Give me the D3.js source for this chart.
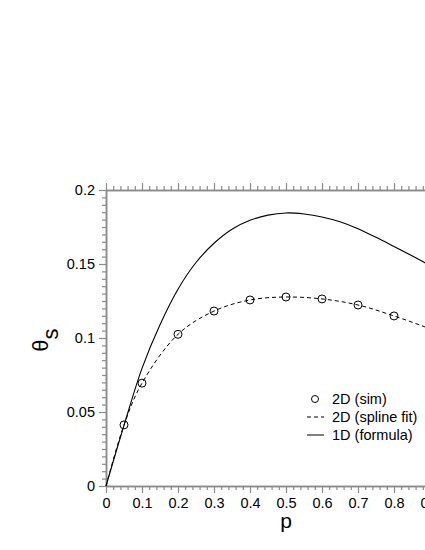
<!DOCTYPE html>
<html>
<head>
<meta charset="utf-8">
<script src="https://cdn.jsdelivr.net/npm/d3@7"></script>
<style>
  html, body { margin: 0; padding: 0; background: #fff; }
  svg { display: block; font-family: "Liberation Sans", Arial, Helvetica, sans-serif; }
</style>
</head>
<body>
<svg id="chart" width="425" height="550"></svg>
<script>
// ---- data ----
const simP      = [0.05, 0.1, 0.2, 0.3, 0.4, 0.5, 0.6, 0.7, 0.8];
const simTheta  = [0.0413, 0.0695, 0.1025, 0.1182, 0.1257, 0.1277, 0.1264, 0.1223, 0.1149];

const splineP     = [0, 0.05, 0.1, 0.2, 0.3, 0.4, 0.5, 0.6, 0.7, 0.8, 0.9, 1.0];
const splineTheta = [0, 0.0413, 0.0695, 0.1025, 0.1182, 0.1257, 0.1277, 0.1264, 0.1223, 0.1149, 0.1062, 0.0965];

const formulaP     = [0, 0.05, 0.1, 0.15, 0.2, 0.25, 0.3, 0.35, 0.4, 0.45, 0.5, 0.55, 0.6, 0.65, 0.7, 0.75, 0.8, 0.85, 0.9, 0.95, 1.0];
const formulaTheta = [0, 0.041, 0.0795, 0.109, 0.133, 0.151, 0.164, 0.1735, 0.1795, 0.183, 0.1845, 0.1838, 0.1818, 0.1785, 0.1738, 0.168, 0.1618, 0.1555, 0.149, 0.1425, 0.136];

const xMajorTicks = [0, 0.1, 0.2, 0.3, 0.4, 0.5, 0.6, 0.7, 0.8, 0.9, 1];
const xTickLabels = ["0", "0.1", "0.2", "0.3", "0.4", "0.5", "0.6", "0.7", "0.8", "0.9", "1"];
const yMajorTicks = [0, 0.05, 0.1, 0.15, 0.2];
const yTickLabels = ["0", "0.05", "0.1", "0.15", "0.2"];

const legendLabels = ["2D (sim)", "2D (spline fit)", "1D (formula)"];

// ---- layout ----
const svg = d3.select("#chart");
const x = d3.scaleLinear().domain([0, 1]).range([106, 466]);
const y = d3.scaleLinear().domain([0, 0.2]).range([486, 190]);
const axisColor = "#8a8a8a";
const fontSize = 14.5;

const xMinor = d3.range(0, 1.0001, 0.02).filter(v => Math.abs(v * 10 - Math.round(v * 10)) > 1e-6);
const yMinor = d3.range(0, 0.2001, 0.005).filter(v => Math.abs(v * 20 - Math.round(v * 20)) > 1e-6);

function styleAxis(g) {
  g.select(".domain").attr("stroke", axisColor).attr("stroke-width", 1.5);
  g.selectAll(".tick line").attr("stroke", axisColor).attr("stroke-width", 1.2);
  g.selectAll(".tick text").attr("fill", "#000").attr("font-size", fontSize)
    .attr("font-family", "Liberation Sans, Arial, sans-serif");
}

// bottom minor ticks
svg.append("g").attr("transform", `translate(0,${y(0)})`)
  .call(d3.axisBottom(x).tickValues(xMinor).tickSize(4).tickFormat("").tickSizeOuter(0))
  .call(styleAxis);
// bottom major
svg.append("g").attr("transform", `translate(0,${y(0)})`)
  .call(d3.axisBottom(x).tickValues(xMajorTicks).tickSize(7).tickPadding(5).tickSizeOuter(0)
    .tickFormat((d, i) => xTickLabels[i]))
  .call(styleAxis);
// top minor/major
svg.append("g").attr("transform", `translate(0,${y(0.2)})`)
  .call(d3.axisTop(x).tickValues(xMinor).tickSize(4).tickFormat("").tickSizeOuter(0))
  .call(styleAxis);
svg.append("g").attr("transform", `translate(0,${y(0.2)})`)
  .call(d3.axisTop(x).tickValues(xMajorTicks).tickSize(7).tickFormat("").tickSizeOuter(0))
  .call(styleAxis);
// left minor/major
svg.append("g").attr("transform", `translate(${x(0)},0)`)
  .call(d3.axisLeft(y).tickValues(yMinor).tickSize(4).tickFormat("").tickSizeOuter(0))
  .call(styleAxis);
svg.append("g").attr("transform", `translate(${x(0)},0)`)
  .call(d3.axisLeft(y).tickValues(yMajorTicks).tickSize(7).tickPadding(4).tickSizeOuter(0)
    .tickFormat((d, i) => yTickLabels[i]))
  .call(styleAxis);
// right axis (off-canvas)
svg.append("g").attr("transform", `translate(${x(1)},0)`)
  .call(d3.axisRight(y).tickValues(yMajorTicks).tickSize(7).tickFormat("").tickSizeOuter(0))
  .call(styleAxis);

// ---- lines ----
const formulaData = formulaP.map((p, i) => [p, formulaTheta[i]]);
const splineData = splineP.map((p, i) => [p, splineTheta[i]]);
const simData = simP.map((p, i) => [p, simTheta[i]]);

svg.append("path").datum(formulaData)
  .attr("fill", "none").attr("stroke", "#000").attr("stroke-width", 1.1)
  .attr("d", d3.line().x(d => x(d[0])).y(d => y(d[1])).curve(d3.curveCatmullRom.alpha(0.5)));

svg.append("path").datum(splineData)
  .attr("fill", "none").attr("stroke", "#000").attr("stroke-width", 1)
  .attr("stroke-dasharray", "4,3")
  .attr("d", d3.line().x(d => x(d[0])).y(d => y(d[1])).curve(d3.curveCatmullRom.alpha(0.5)));

svg.append("g").selectAll("circle").data(simData).join("circle")
  .attr("cx", d => x(d[0])).attr("cy", d => y(d[1])).attr("r", 4)
  .attr("fill", "none").attr("stroke", "#000").attr("stroke-width", 1);

// ---- axis titles ----
svg.append("text").attr("x", x(0.5)).attr("y", 528).attr("text-anchor", "middle")
  .attr("font-size", 21).text("p");

const yt = svg.append("text").attr("transform", `translate(48,${(y(0) + y(0.2)) / 2 + 2}) rotate(-90)`)
  .attr("text-anchor", "middle").attr("font-size", 22);
yt.append("tspan").text("θ");
yt.append("tspan").attr("dy", 10).text("s");

// ---- legend ----
const legY = [399, 417, 435];
const lg = svg.append("g");
lg.append("circle").attr("cx", 315).attr("cy", legY[0]).attr("r", 3.5)
  .attr("fill", "none").attr("stroke", "#000");
lg.append("line").attr("x1", 307).attr("x2", 324).attr("y1", legY[1]).attr("y2", legY[1])
  .attr("stroke", "#000").attr("stroke-dasharray", "4,3");
lg.append("line").attr("x1", 307).attr("x2", 324).attr("y1", legY[2]).attr("y2", legY[2])
  .attr("stroke", "#000");
lg.selectAll("text").data(legendLabels).join("text")
  .attr("x", 332).attr("y", (d, i) => legY[i]).attr("dy", "0.35em")
  .attr("font-size", fontSize).text(d => d);
</script>
</body>
</html>
